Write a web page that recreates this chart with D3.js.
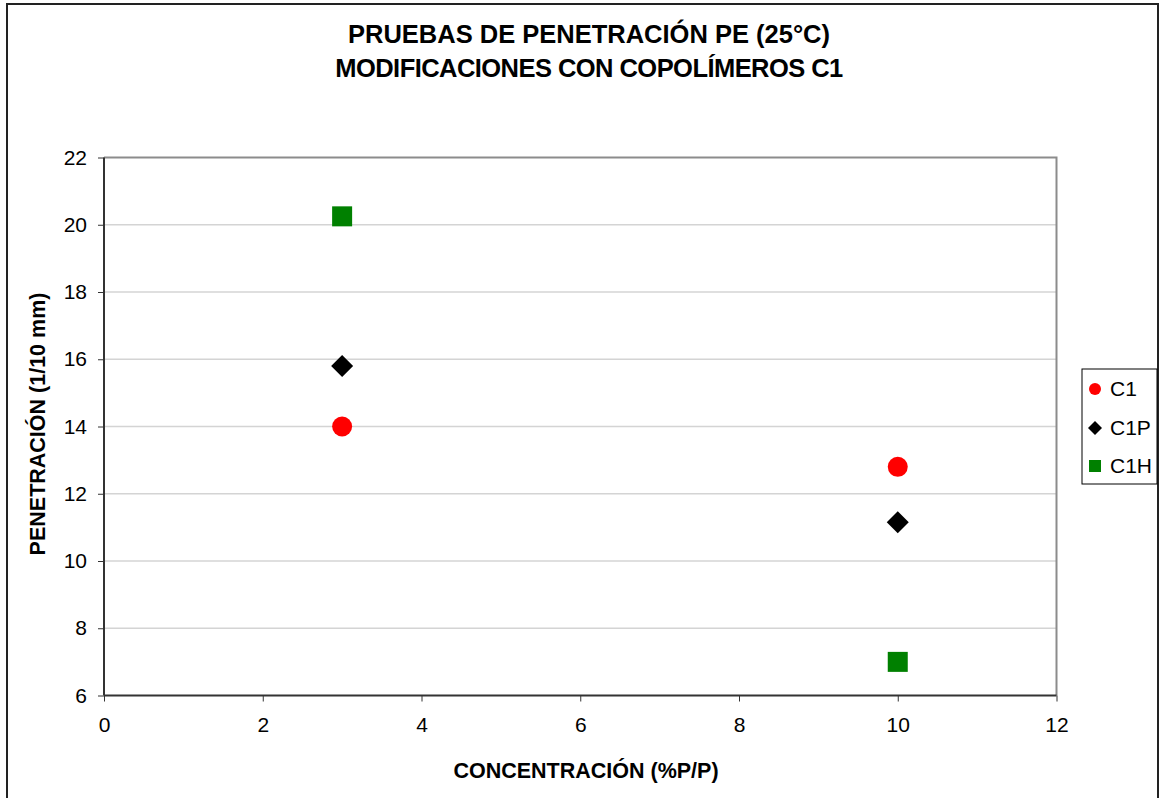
<!DOCTYPE html>
<html>
<head>
<meta charset="utf-8">
<script src="https://cdn.jsdelivr.net/npm/d3@7"></script>
<style>
  html, body { margin: 0; padding: 0; background: #fff; }
  svg { display: block; font-family: "Liberation Sans", Arial, sans-serif; }
</style>
</head>
<body>
<svg id="chart" width="1161" height="798"></svg>
<script>
// Penetration test results for PE modified with C1 copolymers
const concentrations = [3, 10];
const serieC1 = [14.0, 12.8];
const serieC1P = [15.8, 11.15];
const serieC1H = [20.25, 7.0];
const seriesNames = ["C1", "C1P", "C1H"];
const xTicks = [0, 2, 4, 6, 8, 10, 12];
const yTicks = [6, 8, 10, 12, 14, 16, 18, 20, 22];

const series = [
  { name: seriesNames[0], values: serieC1, shape: "circle", color: "#ff0000" },
  { name: seriesNames[1], values: serieC1P, shape: "diamond", color: "#000000" },
  { name: seriesNames[2], values: serieC1H, shape: "square", color: "#008000" }
];

const svg = d3.select("#chart");

// outer chart frame
svg.append("rect")
  .attr("x", 7).attr("y", 4).attr("width", 1151).attr("height", 820)
  .attr("fill", "#fff").attr("stroke", "#222").attr("stroke-width", 2);

const plot = { left: 104, top: 157.5, right: 1056.5, bottom: 695.5 };

const x = d3.scaleLinear().domain([0, 12]).range([plot.left, plot.right]);
const y = d3.scaleLinear().domain([6, 22]).range([plot.bottom, plot.top]);

// gridlines
svg.append("g")
  .selectAll("line")
  .data(yTicks.filter(t => t !== 6 && t !== 22))
  .join("line")
  .attr("x1", plot.left).attr("x2", plot.right)
  .attr("y1", d => y(d)).attr("y2", d => y(d))
  .attr("stroke", "#d4d4d4").attr("stroke-width", 1.3);

// plot area border: top and right in grey
svg.append("path")
  .attr("d", `M${plot.left},${plot.top}H${plot.right}V${plot.bottom}`)
  .attr("fill", "none").attr("stroke", "#8c8c8c").attr("stroke-width", 2);

// axes
const xAxis = d3.axisBottom(x).tickValues(xTicks).tickSize(6).tickPadding(16).tickFormat(d3.format("d"));
const yAxis = d3.axisLeft(y).tickValues(yTicks).tickSize(6).tickPadding(11).tickFormat(d3.format("d"));

const gx = svg.append("g").attr("transform", `translate(0,${plot.bottom})`).call(xAxis);
const gy = svg.append("g").attr("transform", `translate(${plot.left},0)`).call(yAxis);

[gx, gy].forEach(g => {
  g.select(".domain").attr("stroke", "#333").attr("stroke-width", 2);
  g.selectAll(".tick line").attr("stroke", "#333").attr("stroke-width", 1);
  g.selectAll(".tick text")
    .attr("fill", "#000")
    .style("font-family", "'Liberation Sans', Arial, sans-serif")
    .style("font-size", "21px");
});
gy.select(".domain").attr("d", `M0,${plot.bottom}V${plot.top}`);
gx.select(".domain").attr("d", `M${plot.left},0H${plot.right}`);
gx.selectAll(".tick text").attr("dy", "0.71em");

// titles
svg.append("text")
  .attr("x", 589).attr("y", 43)
  .attr("text-anchor", "middle")
  .style("font-weight", "bold").style("font-size", "25.5px")
  .text("PRUEBAS DE PENETRACIÓN PE (25°C)");
svg.append("text")
  .attr("x", 589).attr("y", 77)
  .attr("text-anchor", "middle")
  .style("font-weight", "bold").style("font-size", "25.5px")
  .style("letter-spacing", "-0.55px")
  .text("MODIFICACIONES CON COPOLÍMEROS C1");

svg.append("text")
  .attr("x", 586).attr("y", 778)
  .attr("text-anchor", "middle")
  .style("font-weight", "bold").style("font-size", "21.5px")
  .text("CONCENTRACIÓN (%P/P)");

svg.append("text")
  .attr("transform", "translate(45,424) rotate(-90)")
  .attr("text-anchor", "middle")
  .style("font-weight", "bold").style("font-size", "21.5px")
  .text("PENETRACIÓN (1/10 mm)");

// marker drawing
function drawMarker(g, shape, color, size) {
  if (shape === "circle") {
    g.append("circle").attr("r", size / 2).attr("fill", color);
  } else if (shape === "diamond") {
    const h = size / 2 + 1;
    g.append("path").attr("d", `M0,${-h}L${h},0L0,${h}L${-h},0Z`).attr("fill", color);
  } else {
    g.append("rect").attr("x", -size / 2).attr("y", -size / 2)
      .attr("width", size).attr("height", size).attr("fill", color);
  }
}

series.forEach(s => {
  const pts = s.values.map((v, i) => ({ cx: concentrations[i], v }));
  svg.append("g").selectAll("g")
    .data(pts)
    .join("g")
    .attr("transform", d => `translate(${x(d.cx)},${y(d.v)})`)
    .each(function () { drawMarker(d3.select(this), s.shape, s.color, 20); });
});

// legend
const legend = svg.append("g");
legend.append("rect")
  .attr("x", 1082).attr("y", 369).attr("width", 75).attr("height", 115)
  .attr("fill", "#fff").attr("stroke", "#000").attr("stroke-width", 1);
const legendY = [389, 428, 466];
series.forEach((s, i) => {
  const g = legend.append("g").attr("transform", `translate(1095,${legendY[i]})`);
  drawMarker(g, s.shape, s.color, 12);
  legend.append("text")
    .attr("x", 1110).attr("y", legendY[i])
    .attr("dy", "0.35em")
    .style("font-size", "21px")
    .text(s.name);
});
</script>
</body>
</html>
